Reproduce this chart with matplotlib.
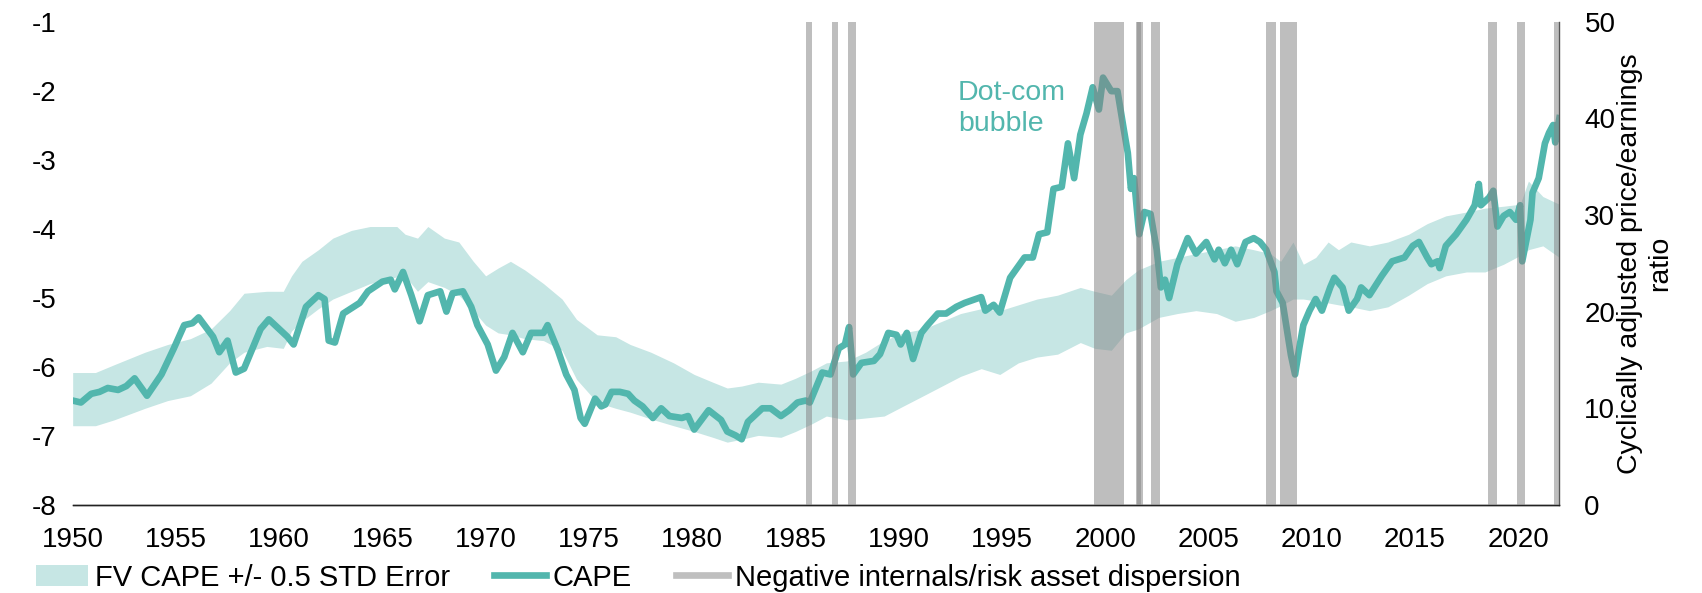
import matplotlib
matplotlib.use("Agg")
import matplotlib.pyplot as plt
from matplotlib.patches import Patch
from matplotlib.lines import Line2D

plt.rcParams['font.family'] = ['Liberation Sans', 'DejaVu Sans']
plt.rcParams['axes.unicode_minus'] = False

# --- data ---
cape_year = [
    1950.0, 1950.4, 1950.9, 1951.3, 1951.7, 1952.2, 1952.6, 1953.0, 1953.6, 1954.3, 1954.9, 1955.4,
    1955.8, 1956.1, 1956.8, 1957.1, 1957.5, 1957.9, 1958.3, 1959.1, 1959.5, 1960.0,
    1960.4, 1960.7, 1961.3, 1961.9, 1962.2, 1962.4, 1962.7, 1963.1, 1963.9, 1964.3,
    1965.0, 1965.4, 1965.6, 1966.0, 1966.4, 1966.8, 1967.2, 1967.8, 1968.1, 1968.4,
    1968.9, 1969.3, 1969.6, 1970.1, 1970.5, 1970.9, 1971.3, 1971.8, 1972.2, 1972.8,
    1973.0, 1973.5, 1973.9, 1974.3, 1974.6, 1974.8, 1975.3, 1975.6, 1975.8, 1976.1,
    1976.5, 1976.9, 1977.2, 1977.6, 1978.1, 1978.5, 1978.9, 1979.5, 1979.8, 1980.1,
    1980.8, 1981.4, 1981.7, 1982.1, 1982.4, 1982.7, 1983.4, 1983.8, 1984.3, 1984.7,
    1985.1, 1985.5, 1985.7, 1986.3, 1986.7, 1987.1, 1987.4, 1987.6, 1987.8, 1988.2,
    1988.8, 1989.1, 1989.5, 1989.9, 1990.1, 1990.4, 1990.7, 1991.1, 1991.4, 1991.9,
    1992.3, 1992.8, 1993.2, 1994.0, 1994.2, 1994.6, 1994.9, 1995.4, 1996.1, 1996.5,
    1996.8, 1997.2, 1997.5, 1997.9, 1998.2, 1998.5, 1998.8, 1999.1, 1999.4, 1999.7,
    1999.9, 2000.3, 2000.6, 2000.9, 2001.1, 2001.25, 2001.4, 2001.65, 2001.9, 2002.2,
    2002.5, 2002.7, 2002.9, 2003.1, 2003.5, 2004.0, 2004.4, 2004.9, 2005.3, 2005.5,
    2005.8, 2006.1, 2006.4, 2006.8, 2007.2, 2007.5, 2007.8, 2008.2, 2008.3, 2008.6,
    2008.8, 2009.0, 2009.2, 2009.4, 2009.6, 2009.9, 2010.2, 2010.5, 2010.9, 2011.1,
    2011.5, 2011.8, 2012.2, 2012.4, 2012.8, 2013.4, 2013.9, 2014.5, 2014.9, 2015.2,
    2015.6, 2015.8, 2016.1, 2016.2, 2016.5, 2017.0, 2017.5, 2017.9, 2018.1, 2018.2,
    2018.6, 2018.8, 2019.0, 2019.3, 2019.6, 2019.9, 2020.1, 2020.2, 2020.6, 2020.7,
    2021.0, 2021.3, 2021.5, 2021.7, 2021.8, 2022.0,
]
cape = [
    10.8, 10.6, 11.5, 11.7, 12.1, 11.9, 12.3, 13.1, 11.3, 13.5, 16.2, 18.6,
    18.8, 19.4, 17.4, 15.8, 17.0, 13.7, 14.1, 18.2, 19.2, 18.2,
    17.4, 16.6, 20.5, 21.7, 21.3, 17.0, 16.8, 19.8, 20.9, 22.1,
    23.1, 23.3, 22.3, 24.1, 21.7, 19.0, 21.7, 22.1, 20.0, 21.9,
    22.1, 20.5, 18.6, 16.6, 13.9, 15.3, 17.8, 15.8, 17.8, 17.8,
    18.6, 16.0, 13.5, 11.9, 9.0, 8.4, 11.0, 10.2, 10.4, 11.7,
    11.7, 11.5, 10.8, 10.2, 9.0, 10.0, 9.2, 9.0, 9.2, 7.8,
    9.8, 8.8, 7.6, 7.2, 6.8, 8.6, 10.0, 10.0, 9.2, 9.8,
    10.6, 10.8, 10.6, 13.7, 13.5, 16.2, 16.6, 18.4, 13.5, 14.7,
    14.9, 15.6, 17.8, 17.6, 16.6, 17.8, 15.1, 17.8, 18.6, 19.8,
    19.8, 20.5, 20.9, 21.5, 20.1, 20.7, 19.9, 23.5, 25.6, 25.6,
    28.0, 28.2, 32.7, 32.9, 37.4, 33.8, 38.3, 40.5, 43.2, 40.9,
    44.2, 42.8, 42.8, 38.9, 36.4, 32.7, 33.8, 28.0, 30.3, 30.1,
    26.4, 22.5, 23.3, 21.4, 24.9, 27.6, 26.0, 27.2, 25.4, 26.4,
    25.0, 26.4, 24.9, 27.2, 27.6, 27.2, 26.4, 24.1, 22.1, 20.9,
    18.2, 15.5, 13.5, 16.2, 18.6, 20.1, 21.3, 20.1, 22.5, 23.5,
    22.5, 20.1, 21.3, 22.5, 21.7, 23.7, 25.2, 25.6, 26.8, 27.2,
    25.6, 24.9, 25.2, 24.5, 26.8, 28.0, 29.5, 31.0, 33.2, 31.0,
    31.8, 32.5, 28.8, 29.9, 30.3, 29.5, 31.0, 25.2, 29.5, 32.3,
    33.8, 37.4, 38.5, 39.3, 37.5, 40.0,
]

band_year = [
    1950.0, 1951.1, 1952.0, 1953.5, 1954.6, 1955.7, 1956.7, 1957.6, 1958.3, 1959.4,
    1960.2, 1960.6, 1961.1, 1961.9, 1962.6, 1963.5, 1964.4, 1965.7, 1966.1, 1966.7,
    1967.2, 1968.0, 1968.7, 1969.4, 1970.0, 1970.6, 1971.2, 1971.9, 1972.8, 1973.7,
    1974.4, 1975.4, 1976.3, 1977.0, 1978.0, 1979.1, 1980.1, 1981.0, 1981.7, 1982.4,
    1983.2, 1984.3, 1985.0, 1985.8, 1986.5, 1987.5, 1988.4, 1989.3, 1990.2, 1991.2,
    1992.1, 1993.0, 1994.0, 1994.9, 1995.8, 1996.7, 1997.7, 1998.8, 1999.5, 2000.3,
    2001.0, 2001.6, 2002.6, 2003.5, 2004.4, 2005.4, 2006.3, 2007.2, 2008.0, 2008.5,
    2009.1, 2009.6, 2010.2, 2010.8, 2011.3, 2011.9, 2012.8, 2013.7, 2014.7, 2015.6,
    2016.5, 2017.5, 2018.4, 2019.3, 2020.1, 2020.5, 2021.2, 2022.0,
]
band_upper = [
    13.7, 13.7, 14.5, 15.8, 16.6, 17.2, 18.2, 20.1, 21.9, 22.1,
    22.1, 23.7, 25.2, 26.4, 27.6, 28.4, 28.8, 28.8, 28.0, 27.6,
    28.8, 27.6, 27.2, 25.2, 23.7, 24.5, 25.2, 24.3, 22.9, 21.3,
    19.2, 17.6, 17.4, 16.6, 15.8, 14.7, 13.5, 12.7, 12.1, 12.3,
    12.7, 12.5, 13.1, 13.9, 14.7, 14.9, 15.8, 17.0, 17.8, 18.2,
    19.0, 19.8, 20.3, 20.1, 20.7, 21.3, 21.7, 22.5, 22.1, 21.7,
    23.3, 24.3, 25.2, 25.6, 26.0, 26.4, 26.8, 26.4, 26.0, 25.2,
    27.2, 24.9, 25.6, 27.2, 26.4, 27.2, 26.8, 27.2, 28.0, 29.1,
    29.9, 30.3, 30.7, 30.9, 31.1, 33.5, 31.9, 31.1,
]
band_lower = [
    8.2, 8.2, 8.8, 10.0, 10.8, 11.3, 12.6, 14.7, 15.8, 16.4,
    16.2, 18.0, 19.0, 20.3, 21.3, 22.1, 22.9, 23.6, 23.7, 22.1,
    23.1, 22.5, 21.7, 20.1, 18.6, 17.8, 17.6, 17.2, 17.0, 16.0,
    13.0, 10.6, 10.0, 9.6, 8.9, 8.2, 7.6, 7.0, 6.5, 6.8,
    7.2, 7.0, 7.6, 8.4, 9.2, 8.8, 9.0, 9.2, 10.2, 11.3,
    12.3, 13.3, 14.1, 13.5, 14.7, 15.3, 15.6, 16.8, 16.2, 16.0,
    17.8, 18.2, 19.4, 19.8, 20.1, 19.8, 19.0, 19.4, 20.1, 20.6,
    21.3, 21.3, 21.1, 20.9, 20.7, 20.5, 20.1, 20.5, 21.7, 22.9,
    23.7, 24.1, 24.1, 24.9, 25.8, 26.4, 26.8, 25.6,
]

# negative internals / risk asset dispersion periods
flag_start = [1985.50, 1986.76, 1987.56, 1999.47, 1999.72, 2000.31, 2001.49, 2001.56,
              2002.22, 2007.79, 2008.47, 2008.84, 2018.55, 2019.96, 2021.75]
flag_end = [1985.82, 1987.08, 1987.92, 1999.72, 2000.31, 2000.91, 2001.76, 2001.82,
            2002.65, 2008.27, 2008.84, 2009.27, 2018.96, 2020.33, 2022.00]

x_ticks = list(range(1950, 2021, 5))
left_ticks = [-1, -2, -3, -4, -5, -6, -7, -8]
right_ticks = [0, 10, 20, 30, 40, 50]

TEAL = '#52b6ad'
BAND = '#c6e6e4'
GREY = '#bfbfbf'

fig = plt.figure(figsize=(17.02, 5.93), dpi=100)
ax = fig.add_axes([0.0427, 0.1484, 0.8735, 0.8153])
ax2 = ax.twinx()

ax.set_xlim(1950, 2022.0)
ax.set_ylim(-8, -1)
ax2.set_ylim(0, 50)

ax2.fill_between(band_year, band_lower, band_upper, color=BAND, lw=0, zorder=1)
ax2.plot(cape_year, cape, color=TEAL, lw=4.8, zorder=2, solid_joinstyle='round')
for s, e in zip(flag_start, flag_end):
    ax2.axvspan(s, e, color='#848484', alpha=0.52, lw=0, zorder=3)

ax2.text(1992.87, 41.0, "Dot-com\nbubble", color=TEAL, fontsize=20.5,
         ha='left', va='center', linespacing=1.25)

ax.set_xticks(x_ticks)
ax.set_yticks(left_ticks)
ax2.set_yticks(right_ticks)
ax.tick_params(axis='x', length=0, pad=16, labelsize=20)
ax.tick_params(axis='y', length=0, pad=12, labelsize=20)
ax2.tick_params(axis='y', length=0, pad=18, labelsize=20)

ax2.set_ylabel("Cyclically adjusted price/earnings\nratio", fontsize=20.5, labelpad=1)

for a in (ax, ax2):
    a.spines['top'].set_visible(False)
    a.spines['left'].set_visible(False)
    a.spines['bottom'].set_color('#222222')
    a.spines['bottom'].set_linewidth(1.0)
ax.spines['right'].set_visible(False)
ax2.spines['right'].set_color('#555555')
ax2.spines['right'].set_linewidth(1.0)

handles = [
    Patch(facecolor=BAND, edgecolor='none'),
    Line2D([0], [0], color=TEAL, lw=4.8),
    Line2D([0], [0], color=GREY, lw=4.8),
]
labels = ["FV CAPE +/- 0.5 STD Error", "CAPE", "Negative internals/risk asset dispersion"]
fig.legend(handles, labels, loc='center left', bbox_to_anchor=(36 / 1702, 0.026),
           ncol=3, frameon=False, fontsize=21, handlelength=1.78, handletextpad=0.24,
           columnspacing=1.5, borderpad=0, borderaxespad=0)

fig.savefig("out.png", dpi=100)
